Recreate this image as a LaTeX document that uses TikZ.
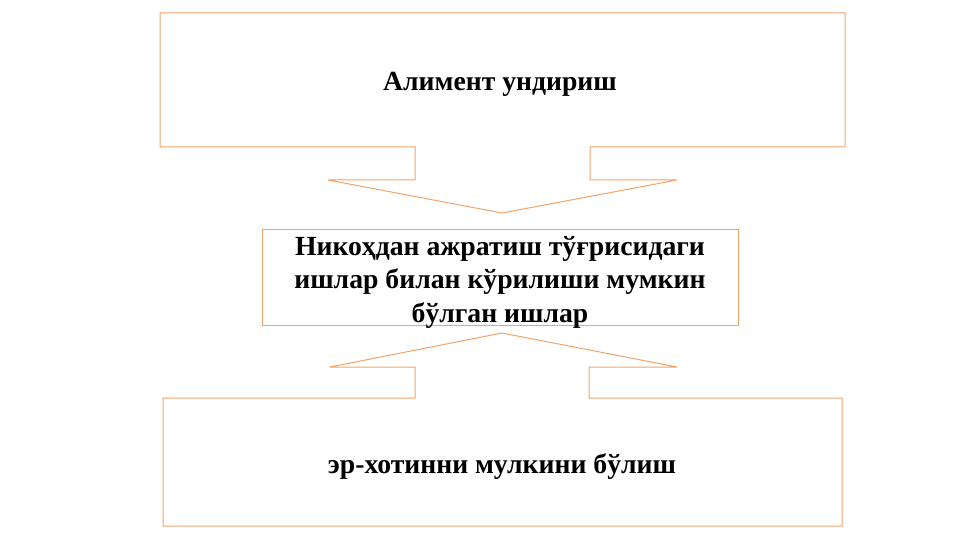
\documentclass[tikz,border=0pt]{standalone}
\usepackage{fontspec}
\setmainfont{Liberation Serif}
\definecolor{boxline}{RGB}{242,163,104}
\begin{document}
\begin{tikzpicture}[x=1pt,y=-1pt,
  outline/.style={draw=boxline,line width=1pt,line join=miter},
  label/.style={font=\fontsize{27.7}{33.5}\selectfont\bfseries,align=center,text=black,inner sep=0pt}]
\useasboundingbox (0,0) rectangle (960,540);
% top callout with down arrow
\draw[outline] (160,13) -- (845,13) -- (845,147) -- (590,147) -- (590,180) -- (677,180)
  -- (502,213) -- (328,180) -- (415,180) -- (415,147) -- (160,147) -- cycle;
% middle box
\node[outline,minimum width=476pt,minimum height=96pt,inner sep=0pt] (mid) at (500,277) {};
% bottom callout with up arrow
\draw[outline] (163,526) -- (842,526) -- (842,398) -- (589,398) -- (589,367) -- (677,367)
  -- (502,333) -- (330,367) -- (415,367) -- (415,398) -- (163,398) -- cycle;
\node[label] (top) at (500,84) {Алимент ундириш};
\node[label] (midtext) at (500,282) {Никоҳдан ажратиш тўғрисидаги\\ишлар билан кўрилиши мумкин\\бўлган ишлар};
\node[label] (bot) at (502,467) {эр-хотинни мулкини бўлиш};
\end{tikzpicture}
\end{document}
